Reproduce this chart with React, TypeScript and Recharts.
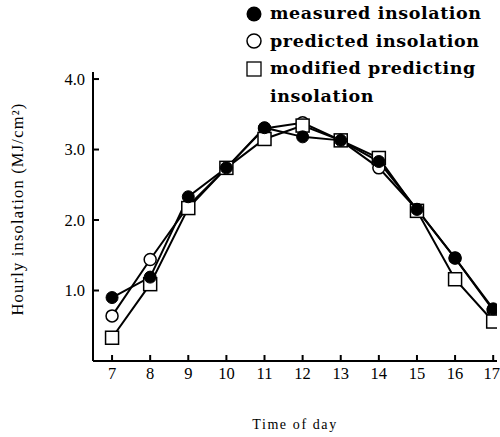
import React from 'react';
import { LineChart, Line, XAxis, YAxis } from 'recharts';

const hours = [7, 8, 9, 10, 11, 12, 13, 14, 15, 16, 17];
const measured = [0.9, 1.19, 2.33, 2.74, 3.31, 3.18, 3.13, 2.83, 2.15, 1.46, 0.74];
const predicted = [0.64, 1.44, 2.2, 2.74, 3.3, 3.38, 3.13, 2.74, 2.15, 1.46, 0.72];
const modified = [0.33, 1.09, 2.17, 2.74, 3.15, 3.34, 3.13, 2.88, 2.13, 1.16, 0.56];
const yTicks = [1, 2, 3, 4];

const data = hours.map((h, i) => ({
    hour: h,
    measured: measured[i],
    predicted: predicted[i],
    modified: modified[i],
}));

const SERIF = '"Liberation Serif", "DejaVu Serif", serif';

const FilledDot = (props: any) => {
    const { cx, cy, index } = props;
    return <circle key={`m-${index}`} cx={cx} cy={cy} r={6} fill="#000" stroke="#000" />;
};

const OpenDot = (props: any) => {
    const { cx, cy, index } = props;
    return <circle key={`p-${index}`} cx={cx} cy={cy} r={6} fill="#fff" stroke="#000" strokeWidth={1.5} />;
};

const SquareDot = (props: any) => {
    const { cx, cy, index } = props;
    return (
        <rect key={`s-${index}`} x={cx - 6.5} y={cy - 6.5} width={13} height={13} fill="#fff" stroke="#000" strokeWidth={1.5} />
    );
};

// legend sits over the top right corner, outside the plot layout
const ChartLegend = () => (
    <div
        style={{
            position: 'absolute',
            left: 244,
            top: 0,
            fontFamily: '"DejaVu Serif", serif',
            fontWeight: 'bold',
            fontSize: 17.5,
            lineHeight: '27.5px',
            letterSpacing: 0.6,
            color: '#000',
            whiteSpace: 'nowrap',
        }}
    >
        <div style={{ display: 'flex', alignItems: 'center' }}>
            <svg width={26} height={18}><circle cx={10} cy={9} r={7.5} fill="#000" /></svg>
            <span>measured insolation</span>
        </div>
        <div style={{ display: 'flex', alignItems: 'center' }}>
            <svg width={26} height={18}><circle cx={10} cy={9} r={7} fill="#fff" stroke="#000" strokeWidth={1.5} /></svg>
            <span>predicted insolation</span>
        </div>
        <div style={{ display: 'flex', alignItems: 'center' }}>
            <svg width={26} height={18}><rect x={3} y={2} width={14} height={14} fill="#fff" stroke="#000" strokeWidth={1.3} /></svg>
            <span>modified predicting</span>
        </div>
        <div style={{ paddingLeft: 26 }}>insolation</div>
    </div>
);

export default function App() {
    return (
        <div style={{ position: 'absolute', left: 0, top: 0, width: 500, height: 437, background: '#fff' }}>
            <LineChart width={500} height={437} data={data} margin={{ top: 72, right: 3, bottom: 46, left: 0 }}>
                <XAxis
                    dataKey="hour"
                    type="number"
                    domain={[6.5, 17.1]}
                    ticks={hours}
                    allowDataOverflow
                    stroke="#000"
                    strokeWidth={2}
                    tickSize={-6}
                    tickMargin={12}
                    tick={{ fill: '#000', fontFamily: SERIF, fontSize: 16.5 }}
                    label={{
                        content: () => (
                            <text x={295} y={429} textAnchor="middle" fill="#000" fontFamily={SERIF} fontSize={14} letterSpacing={1.6}>
                                Time of day
                            </text>
                        ),
                    }}
                />
                <YAxis
                    type="number"
                    domain={[0, 4.1]}
                    ticks={yTicks}
                    width={93}
                    allowDataOverflow
                    stroke="#000"
                    strokeWidth={2}
                    tickSize={-6}
                    tickMargin={14}
                    tickFormatter={(v: number) => v.toFixed(1)}
                    tick={{ fill: '#000', fontFamily: SERIF, fontSize: 16.5 }}
                    label={{
                        content: () => (
                            <text
                                x={23}
                                y={209}
                                transform="rotate(-90 23 209)"
                                textAnchor="middle"
                                fill="#000"
                                fontFamily={SERIF}
                                fontSize={16.5}
                                letterSpacing={1.2}
                            >
                                Hourly insolation (MJ/cm²)
                            </text>
                        ),
                    }}
                />
                <Line dataKey="predicted" stroke="#000" strokeWidth={2} dot={OpenDot} isAnimationActive={false} />
                <Line dataKey="modified" stroke="#000" strokeWidth={2} dot={SquareDot} isAnimationActive={false} />
                <Line dataKey="measured" stroke="#000" strokeWidth={2} dot={FilledDot} isAnimationActive={false} />
            </LineChart>
            <ChartLegend />
        </div>
    );
}
